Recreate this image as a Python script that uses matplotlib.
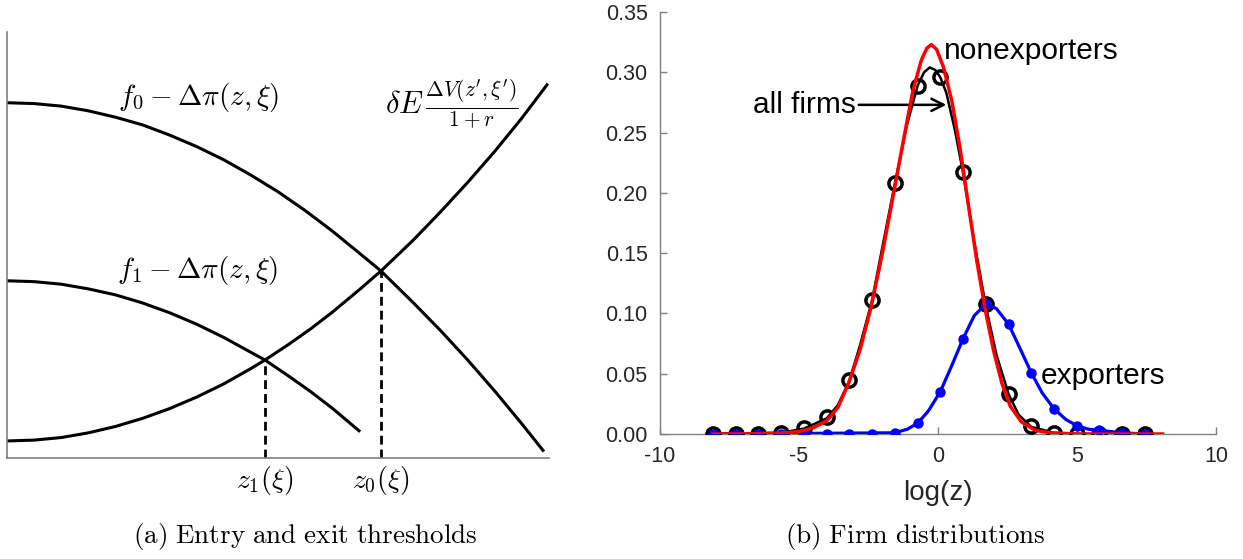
import matplotlib
matplotlib.use("Agg")
import matplotlib.pyplot as plt
import numpy as np

plt.rcParams['mathtext.fontset'] = 'cm'
plt.rcParams['axes.unicode_minus'] = False

# panel (a): schematic curves (normalised units)
f0_x = [0.0, 0.05, 0.10, 0.15, 0.20, 0.25, 0.30, 0.35, 0.40, 0.45, 0.50, 0.55, 0.60, 0.65,
        0.69, 0.75, 0.80, 0.85, 0.90, 0.95, 0.9889]
f0_y = [0.834, 0.832, 0.826, 0.815, 0.800, 0.782, 0.758, 0.731, 0.700, 0.664, 0.625, 0.581, 0.533, 0.481,
        0.439, 0.364, 0.299, 0.230, 0.157, 0.080, 0.018]
f1_x = [0.0, 0.05, 0.10, 0.15, 0.20, 0.25, 0.30, 0.35, 0.40, 0.45, 0.476, 0.52, 0.56, 0.60, 0.6494]
f1_y = [0.416, 0.414, 0.408, 0.397, 0.383, 0.364, 0.341, 0.314, 0.283, 0.248, 0.230, 0.192, 0.156, 0.117, 0.064]
de_x = [0.0, 0.05, 0.10, 0.15, 0.20, 0.25, 0.30, 0.35, 0.40, 0.45, 0.476, 0.52, 0.56, 0.60, 0.65,
        0.69, 0.75, 0.80, 0.85, 0.90, 0.95, 0.9963]
de_y = [0.040, 0.042, 0.048, 0.059, 0.074, 0.093, 0.116, 0.143, 0.174, 0.210, 0.230, 0.267, 0.303, 0.342, 0.395,
        0.439, 0.512, 0.578, 0.647, 0.720, 0.798, 0.876]
z1 = (0.476, 0.230)
z0 = (0.690, 0.439)

# panel (b): firm distributions over log(z)
grid = [-8.09, -7.28, -6.46, -5.64, -4.82, -4.0, -3.19, -2.37, -1.55, -0.73,
        0.08, 0.9, 1.72, 2.54, 3.35, 4.17, 4.99, 5.8, 6.62, 7.44]
all_pts = [0.0, 0.0, 0.0, 0.001, 0.0047, 0.0143, 0.0446, 0.111, 0.208, 0.289,
           0.296, 0.217, 0.108, 0.033, 0.007, 0.001, 0.0, 0.0, 0.0, 0.0]
exp_pts = [0.0, 0.0, 0.0, 0.0, 0.0, 0.0, 0.0, 0.0, 0.001, 0.009,
           0.035, 0.079, 0.108, 0.091, 0.051, 0.021, 0.007, 0.003, 0.001, 0.0]

all_x = [-8.09, -5.64, -4.82, -4.0, -3.6, -3.19, -2.8, -2.37, -2.0, -1.55, -1.1, -0.73,
         -0.5, -0.3, -0.1, 0.08, 0.3, 0.6, 0.9, 1.3, 1.72, 2.1, 2.54, 2.9, 3.35, 4.17, 5.0, 7.44]
all_y = [0.0, 0.001, 0.0045, 0.013, 0.024, 0.044, 0.074, 0.111, 0.155, 0.208, 0.258, 0.289,
         0.300, 0.304, 0.302, 0.296, 0.283, 0.253, 0.217, 0.160, 0.106, 0.066, 0.033, 0.016, 0.006, 0.001, 0.0, 0.0]

exp_x = [-8.09, -1.55, -1.1, -0.73, -0.35, 0.08, 0.5, 0.9, 1.3, 1.72, 2.1, 2.54, 2.95,
         3.35, 3.75, 4.17, 4.6, 4.99, 5.4, 5.8, 6.62, 7.44]
exp_y = [0.0, 0.001, 0.004, 0.009, 0.019, 0.035, 0.057, 0.079, 0.098, 0.108, 0.104, 0.091, 0.071,
         0.051, 0.034, 0.021, 0.012, 0.007, 0.004, 0.003, 0.001, 0.0]

non_x = [-8.09, -6.5, -5.5, -5.0, -4.5, -4.0, -3.6, -3.2, -2.8, -2.4, -2.0, -1.6, -1.2, -0.9,
         -0.6, -0.4, -0.24, -0.05, 0.2, 0.5, 0.8, 1.1, 1.4, 1.7, 2.0, 2.3, 2.6, 3.0, 3.5, 4.0, 5.0, 8.08]
non_y = [0.0, 0.0002, 0.001, 0.002, 0.005, 0.011, 0.022, 0.043, 0.070, 0.106, 0.150, 0.199, 0.249, 0.285,
         0.310, 0.320, 0.323, 0.319, 0.304, 0.276, 0.236, 0.189, 0.143, 0.103, 0.069, 0.042, 0.023, 0.010, 0.003, 0.001, 0.0, 0.0]

W, H = 1243, 559
fig = plt.figure(figsize=(W / 100, H / 100), dpi=100)

# ---- left panel
axl = fig.add_axes([7 / W, (H - 458) / H, 542 / W, 426 / H])
axl.plot(f0_x, f0_y, color='black', lw=2.2, solid_joinstyle='round')
axl.plot(f1_x, f1_y, color='black', lw=2.2, solid_joinstyle='round')
axl.plot(de_x, de_y, color='black', lw=2.2, solid_joinstyle='round')
axl.plot([z1[0], z1[0]], [0, z1[1]], color='black', lw=2.0, ls=(0, (3.2, 1.8)))
axl.plot([z0[0], z0[0]], [0, z0[1]], color='black', lw=2.0, ls=(0, (3.2, 1.8)))
axl.set_xlim(0, 1)
axl.set_ylim(0, 1)
axl.set_xticks([])
axl.set_yticks([])
for s in ['top', 'right']:
    axl.spines[s].set_visible(False)
for s in ['left', 'bottom']:
    axl.spines[s].set_color('#808080')
    axl.spines[s].set_linewidth(1.2)

axl.text(0.205, 0.847, r'$f_0 - \Delta\pi(z,\xi)$', fontsize=21, va='center', ha='left')
axl.text(0.203, 0.441, r'$f_1 - \Delta\pi(z,\xi)$', fontsize=21, va='center', ha='left')
axl.text(0.697, 0.831, r'$\delta E\,\frac{\Delta V(z^\prime,\xi^\prime)}{1+r}$', fontsize=22, va='center', ha='left')
axl.text(z1[0], -0.052, r'$z_1(\xi)$', fontsize=20, va='center', ha='center')
axl.text(z0[0], -0.052, r'$z_0(\xi)$', fontsize=20, va='center', ha='center')

# ---- right panel
axr = fig.add_axes([660 / W, (H - 434) / H, 556 / W, 422 / H])
axr.plot(all_x, all_y, color='black', lw=1.8, zorder=2)
axr.plot(grid, all_pts, 'o', color='black', mfc='none', ms=9.5, mew=2.5, zorder=3)
axr.plot(exp_x, exp_y, color='#0000ff', lw=2.3, zorder=4)
axr.plot(grid, exp_pts, 'o', color='#0000ff', ms=6.5, zorder=5)
axr.plot(non_x, non_y, color='#ff0000', lw=2.5, zorder=6)

axr.set_xlim(-10, 10)
axr.set_ylim(0, 0.35)
axr.set_xticks([-10, -5, 0, 5, 10])
axr.set_yticks(np.arange(0, 0.36, 0.05))
axr.set_yticklabels(['%.2f' % v for v in np.arange(0, 0.36, 0.05)])
axr.tick_params(direction='in', length=5, color='#808080', labelcolor='#262626',
                labelsize=15.5, width=1, pad=9)
for lab in axr.get_xticklabels() + axr.get_yticklabels():
    lab.set_family('Liberation Sans')
for s in ['top', 'right']:
    axr.spines[s].set_visible(False)
for s in ['left', 'bottom']:
    axr.spines[s].set_color('#808080')
    axr.spines[s].set_linewidth(1.0)
axr.set_xlabel('log(z)', fontsize=20, family='Liberation Sans', color='#262626', labelpad=9)

axr.text(0.21, 0.318, 'nonexporters', fontsize=21.5, family='Liberation Sans', va='center', ha='left')
axr.text(3.71, 0.048, 'exporters', fontsize=21.5, family='Liberation Sans', va='center', ha='left')
axr.annotate('all firms', xy=(0.3, 0.273), xytext=(-2.95, 0.273),
             fontsize=21.5, family='Liberation Sans', va='center', ha='right',
             arrowprops=dict(arrowstyle='->', color='black', lw=1.8, shrinkA=0, shrinkB=0,
                             mutation_scale=22))

# captions
fig.text(305 / W, 1 - 537 / H, r'$\mathrm{(a)\ Entry\ and\ exit\ thresholds}$', fontsize=19.5,
         ha='center', va='center')
fig.text(915 / W, 1 - 537 / H, r'$\mathrm{(b)\ Firm\ distributions}$', fontsize=19.5,
         ha='center', va='center')

fig.savefig('out.png', dpi=100)
